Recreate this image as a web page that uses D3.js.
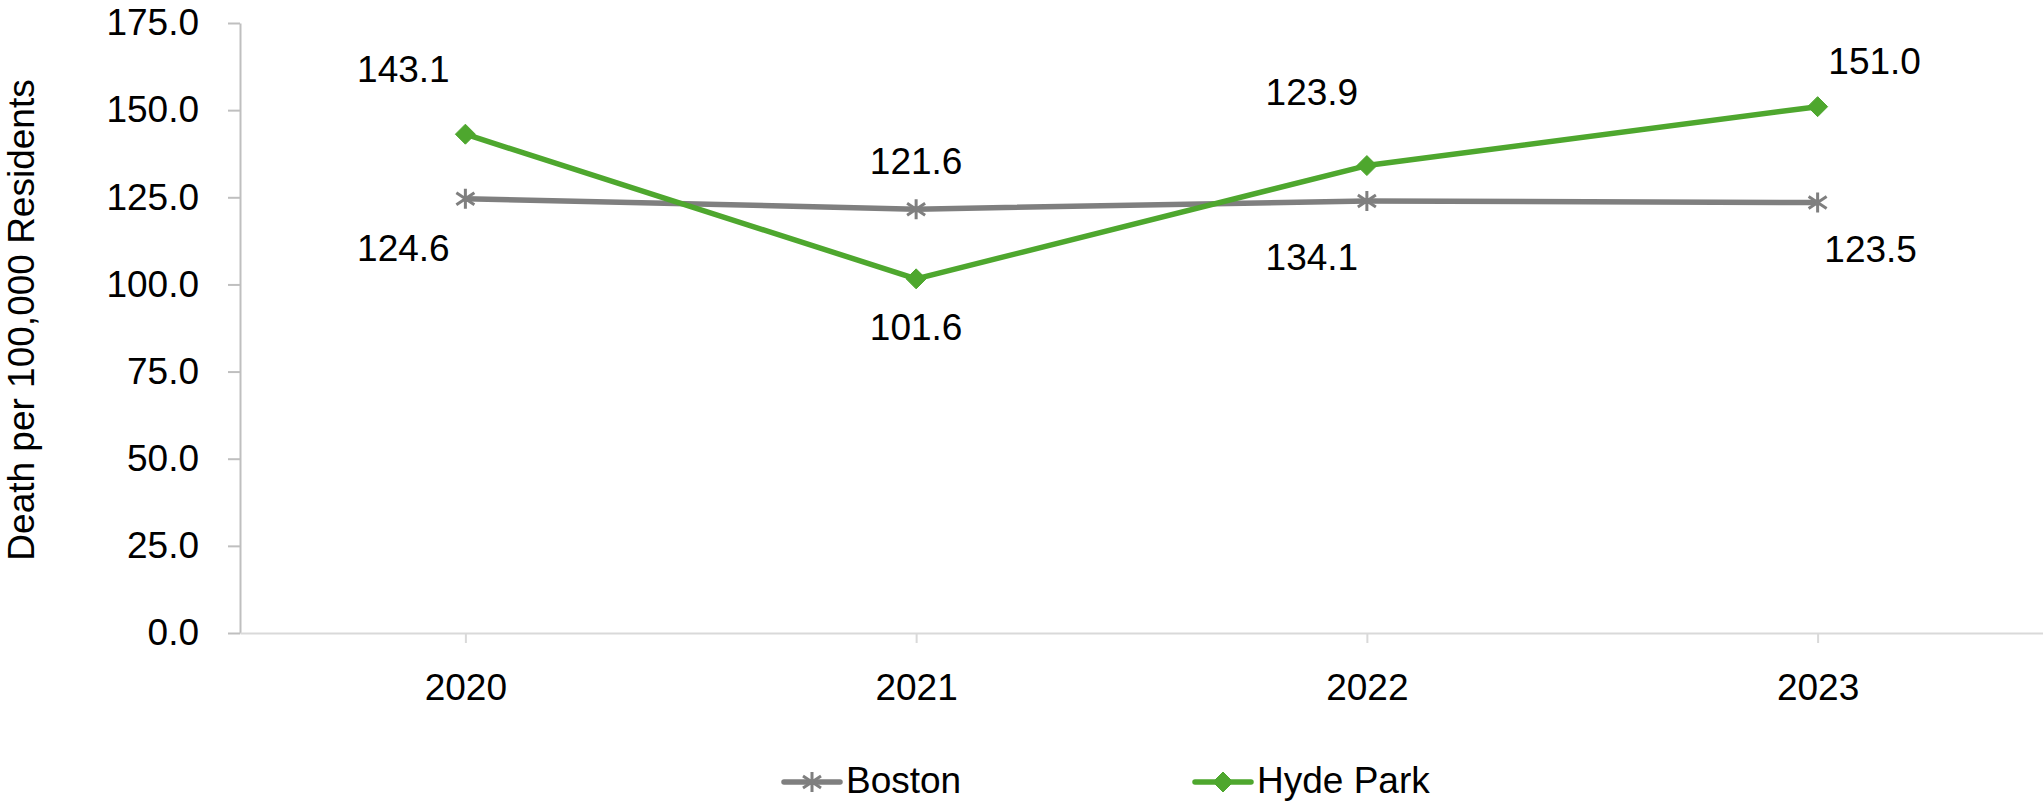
<!DOCTYPE html>
<html>
<head>
<meta charset="utf-8">
<script src="https://cdn.jsdelivr.net/npm/d3@7"></script>
<style>
  body { margin: 0; background: #fff; }
  text { font-family: "Liberation Sans", Arial, sans-serif; fill: #000; }
</style>
</head>
<body>
<div id="chart"></div>
<script>
var years = ['2020', '2021', '2022', '2023']
var boston = [124.6, 121.6, 123.9, 123.5]
var hydePark = [143.1, 101.6, 134.1, 151.0]
var yTicks = [0, 25, 50, 75, 100, 125, 150, 175]

// where each data label sits relative to its point (dx, baseline dy)
var bostonLabelPos = [[-62, 62], [0, -35], [-55, -96], [53, 59]]
var hydeLabelPos = [[-62, -52], [0, 61], [-55, 104], [57, -33]]

var width = 2043
var height = 804
var fontSize = 37
var gray = '#7f7f7f'
var green = '#4ea72e'

var svg = d3.select('#chart')
  .append('svg')
  .attr('width', width)
  .attr('height', height)

var x = d3.scalePoint()
  .domain(years)
  .range([240, 2043])
  .padding(0.5)

var y = d3.scaleLinear()
  .domain([0, 175])
  .range([633, 23])

// y axis
var yAxis = svg.append('g')
  .attr('transform', 'translate(240,0)')
  .call(d3.axisLeft(y)
    .tickValues(yTicks)
    .tickFormat(d3.format('.1f'))
    .tickSize(12)
    .tickSizeOuter(0)
    .tickPadding(29))
yAxis.select('.domain').attr('stroke', '#bfbfbf').attr('stroke-width', 2)
yAxis.selectAll('.tick line').attr('stroke', '#bfbfbf').attr('stroke-width', 2)
yAxis.selectAll('.tick text')
  .style('font-size', fontSize + 'px')
  .attr('font-family', null)

// x axis
var xAxis = svg.append('g')
  .attr('transform', 'translate(0,633)')
  .call(d3.axisBottom(x)
    .tickSize(10)
    .tickSizeOuter(0)
    .tickPadding(31))
xAxis.select('.domain').attr('stroke', '#d9d9d9').attr('stroke-width', 2)
xAxis.selectAll('.tick line').attr('stroke', '#d9d9d9').attr('stroke-width', 2)
xAxis.selectAll('.tick text')
  .style('font-size', fontSize + 'px')
  .attr('font-family', null)

// axis title
svg.append('text')
  .attr('transform', 'translate(34,320) rotate(-90)')
  .style('text-anchor', 'middle')
  .style('font-size', fontSize + 'px')
  .text('Death per 100,000 Residents')

var line = d3.line()
  .x(function (d, i) { return x(years[i]) })
  .y(function (d) { return y(d) })

var starPath = 'M0,-10V10M-9,-6L9,6M-9,6L9,-6'
var diamondPath = 'M0,-10L10,0L0,10L-10,0Z'

function drawSeries (values, color, marker, labelPos) {
  svg.append('path')
    .datum(values)
    .attr('fill', 'none')
    .attr('stroke', color)
    .attr('stroke-width', 5.5)
    .attr('stroke-linejoin', 'round')
    .attr('d', line)

  svg.selectAll(null)
    .data(values)
    .enter().append('path')
    .attr('transform', function (d, i) { return 'translate(' + x(years[i]) + ',' + y(d) + ')' })
    .attr('d', marker)
    .attr('fill', marker === diamondPath ? color : 'none')
    .attr('stroke', color)
    .attr('stroke-width', marker === diamondPath ? 1 : 3)

  svg.selectAll(null)
    .data(values)
    .enter().append('text')
    .attr('x', function (d, i) { return x(years[i]) + labelPos[i][0] })
    .attr('y', function (d, i) { return y(d) + labelPos[i][1] })
    .style('text-anchor', 'middle')
    .style('font-size', fontSize + 'px')
    .text(function (d) { return d3.format('.1f')(d) })
}

drawSeries(boston, gray, starPath, bostonLabelPos)
drawSeries(hydePark, green, diamondPath, hydeLabelPos)

// legend
var legendItems = [
  { name: 'Boston', color: gray, marker: starPath, x: 784 },
  { name: 'Hyde Park', color: green, marker: diamondPath, x: 1195 }
]
var legend = svg.selectAll('.legendItem')
  .data(legendItems)
  .enter().append('g')
  .attr('class', 'legendItem')
  .attr('transform', function (d) { return 'translate(' + d.x + ',782)' })

legend.append('line')
  .attr('x1', 0).attr('x2', 56)
  .attr('stroke', function (d) { return d.color })
  .attr('stroke-width', 5.5)
  .attr('stroke-linecap', 'round')

legend.append('path')
  .attr('transform', 'translate(28,0)')
  .attr('d', function (d) { return d.marker })
  .attr('fill', function (d) { return d.marker === diamondPath ? d.color : 'none' })
  .attr('stroke', function (d) { return d.color })
  .attr('stroke-width', function (d) { return d.marker === diamondPath ? 1 : 3 })

legend.append('text')
  .attr('x', 62)
  .attr('y', 11)
  .style('font-size', fontSize + 'px')
  .text(function (d) { return d.name })
</script>
</body>
</html>
